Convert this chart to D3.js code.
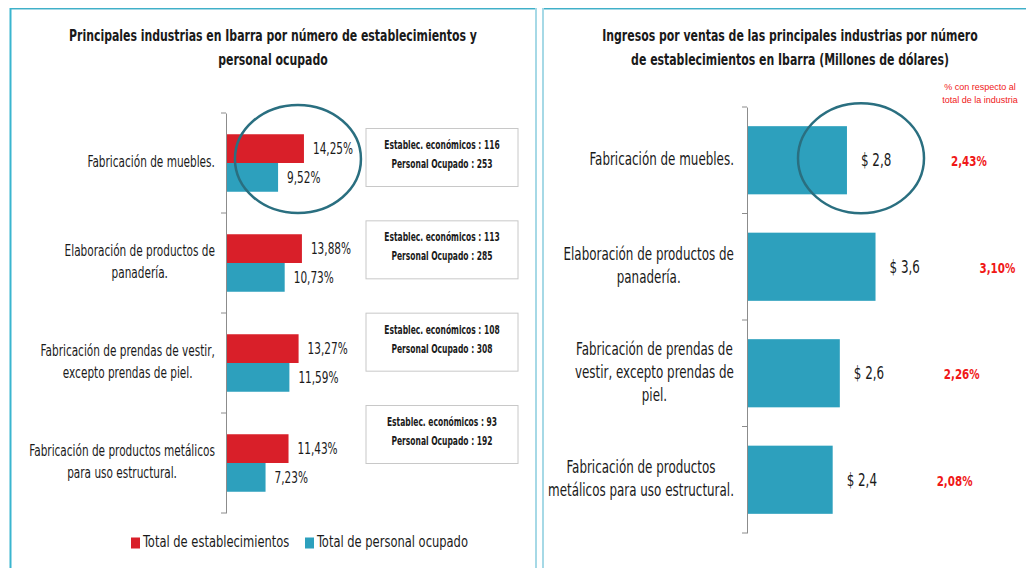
<!DOCTYPE html>
<html>
<head>
<meta charset="utf-8">
<script src="https://cdn.jsdelivr.net/npm/d3@7"></script>
<style>
  body { margin: 0; background: #fff; }
  text { font-family: "DejaVu Sans Condensed", "DejaVu Sans", sans-serif; fill: #1a1a1a; }
</style>
</head>
<body>
<div id="chart"></div>
<script>
// data
var categories = ["Fabricación de muebles.", "Elaboración de productos de panadería.",
  "Fabricación de prendas de vestir, excepto prendas de piel.", "Fabricación de productos metálicos para uso estructural."];
var leftLabels = [["Fabricación de muebles."], ["Elaboración de productos de", "panadería."],
  ["Fabricación de prendas de vestir,", "excepto prendas de piel."], ["Fabricación de productos metálicos", "para uso estructural."]];
var rightLabels = [["Fabricación de muebles."], ["Elaboración de productos de", "panadería."],
  ["Fabricación de prendas de", "vestir, excepto prendas de", "piel."], ["Fabricación de productos", "metálicos para uso estructural."]];
var establecimientos = [14.25, 13.88, 13.27, 11.43];
var personal = [9.52, 10.73, 11.59, 7.23];
var numEstablec = [116, 113, 108, 93];
var numPersonal = [253, 285, 308, 192];
var ingresos = [2.8, 3.6, 2.6, 2.4];
var pctIndustria = [2.43, 3.10, 2.26, 2.08];
var seriesNames = ["Total de establecimientos", "Total de personal ocupado"];
var leftTitle = ["Principales industrias en Ibarra por número de establecimientos y", "personal ocupado"];
var rightTitle = ["Ingresos por ventas de las principales industrias por número", "de establecimientos en Ibarra (Millones de dólares)"];
var pctNote = ["% con respecto al", "total de la industria"];

var red = "#d91f29", blue = "#2da0bd", ring = "#2a6f80";
var loc = d3.formatLocale({decimal: ",", thousands: ".", grouping: [3], currency: ["$ ", ""]});
var f2 = loc.format(".2f"), f1 = loc.format(".1f");

// the original font is a narrow one, so squeeze the condensed font a bit more
var K = 0.78;
function squeeze(sel, k) {
  k = k || K;
  sel.each(function() {
    var t = d3.select(this);
    t.attr("x", (+t.attr("x") || 0) / k).attr("transform", "scale(" + k + ",1)");
  });
}

var svg = d3.select("#chart").append("svg")
  .attr("width", 1026).attr("height", 568);

// panel frames
function frame(x0, x1) {
  svg.append("line").attr("x1", x0).attr("x2", x1).attr("y1", 8.5).attr("y2", 8.5)
    .attr("stroke", "#3fb0c8").attr("stroke-width", 1);
  svg.append("line").attr("x1", x0).attr("x2", x1).attr("y1", 9.5).attr("y2", 9.5)
    .attr("stroke", "#a6d9e6").attr("stroke-width", 1);
}
frame(10, 537);
frame(542, 1026);
svg.append("line").attr("x1", 10.5).attr("x2", 10.5).attr("y1", 8).attr("y2", 568).attr("stroke", "#3ab5cf").attr("stroke-width", 2);
svg.append("line").attr("x1", 536).attr("x2", 536).attr("y1", 8).attr("y2", 568).attr("stroke", "#a6d9e6").attr("stroke-width", 2);
svg.append("line").attr("x1", 543).attr("x2", 543).attr("y1", 8).attr("y2", 568).attr("stroke", "#a6d9e6").attr("stroke-width", 2);

function title(lines, cx) {
  var t = svg.append("g").selectAll("text").data(lines).enter().append("text")
    .attr("x", cx).attr("y", function(d, i) { return 37 + i * 24; })
    .attr("text-anchor", "middle").attr("dominant-baseline", "middle")
    .style("font-weight", "bold").style("font-size", "15px")
    .text(function(d) { return d; });
  squeeze(t, 0.81);
}
title(leftTitle, 273);
title(rightTitle, 790);

// category labels: centred block, widest line ends at `right`
function catLabels(g, labels, y, right, size, lh) {
  labels.forEach(function(lines, i) {
    var cy = y(categories[i]) + y.bandwidth() / 2;
    var tx = g.append("g").selectAll("text").data(lines).enter().append("text")
      .attr("y", function(d, j) { return cy + (j - (lines.length - 1) / 2) * lh; })
      .attr("dominant-baseline", "middle").attr("text-anchor", "middle")
      .style("font-size", size + "px")
      .text(function(d) { return d; });
    var w = d3.max(tx.nodes(), function(n) { return n.getComputedTextLength(); }) * K;
    tx.attr("x", right - w / 2);
    squeeze(tx);
  });
}

function bandTicks(g, y, x0) {
  var r = y.range(), step = y.step();
  var ticks = d3.range(categories.length + 1).map(function(i) { return r[0] + i * step; });
  g.selectAll(".bt").data(ticks).enter().append("line")
    .attr("x1", x0 - 5).attr("x2", x0).attr("y1", function(d) { return d; }).attr("y2", function(d) { return d; })
    .attr("stroke", "#8c8c8c");
}

// ---- left chart
var gl = svg.append("g");
var x = d3.scaleLinear().domain([0, 15]).range([226, 226 + 15 * 5.47]);
var y = d3.scaleBand().domain(categories).range([113, 513]).paddingInner(0.425).paddingOuter(0.2125);
var bw = y.bandwidth() / 2;

gl.selectAll(".est").data(categories).enter().append("rect")
  .attr("x", x(0)).attr("y", function(d) { return y(d); })
  .attr("width", function(d, i) { return x(establecimientos[i]) - x(0); })
  .attr("height", bw).attr("fill", red);
gl.selectAll(".per").data(categories).enter().append("rect")
  .attr("x", x(0)).attr("y", function(d) { return y(d) + bw; })
  .attr("width", function(d, i) { return x(personal[i]) - x(0); })
  .attr("height", bw).attr("fill", blue);

gl.append("g").attr("transform", "translate(" + x(0) + ",0)")
  .call(d3.axisLeft(y).tickSize(0).tickFormat(""))
  .select(".domain").attr("stroke", "#8c8c8c");
bandTicks(gl, y, x(0));

var le = gl.selectAll(".le").data(categories).enter().append("text")
  .attr("x", function(d, i) { return x(establecimientos[i]) + 9; })
  .attr("y", function(d) { return y(d) + bw / 2 + 1; })
  .attr("dominant-baseline", "middle").style("font-size", "15px")
  .text(function(d, i) { return f2(establecimientos[i]) + "%"; });
squeeze(le);
var lp = gl.selectAll(".lp").data(categories).enter().append("text")
  .attr("x", function(d, i) { return x(personal[i]) + 9; })
  .attr("y", function(d) { return y(d) + bw * 1.5 + 1; })
  .attr("dominant-baseline", "middle").style("font-size", "15px")
  .text(function(d, i) { return f2(personal[i]) + "%"; });
squeeze(lp);

catLabels(gl, leftLabels, y, 215, 15, 22);

// info boxes
var boxY = d3.scalePoint().domain(categories).range([157.5, 434.5]);
var box = gl.selectAll(".box").data(categories).enter().append("g")
  .attr("transform", function(d) { return "translate(442," + boxY(d) + ")"; });
box.append("rect").attr("x", -76).attr("y", -29).attr("width", 152).attr("height", 58)
  .attr("fill", "#fff").attr("stroke", "#c8c8c8");
var b1 = box.append("text").attr("y", -12).attr("text-anchor", "middle").attr("dominant-baseline", "middle")
  .style("font-weight", "bold").style("font-size", "12px")
  .text(function(d, i) { return "Establec. económicos : " + numEstablec[i]; });
var b2 = box.append("text").attr("y", 7).attr("text-anchor", "middle").attr("dominant-baseline", "middle")
  .style("font-weight", "bold").style("font-size", "12px")
  .text(function(d, i) { return "Personal Ocupado : " + numPersonal[i]; });
squeeze(b1, 0.7);
squeeze(b2, 0.7);

gl.append("ellipse").attr("cx", x(establecimientos[0]) - 6).attr("cy", y(categories[0]) + bw - 4)
  .attr("rx", 63).attr("ry", 54).attr("fill", "none").attr("stroke", ring).attr("stroke-width", 2.5);

// legend
var lg = gl.append("g").attr("transform", "translate(131,543)");
var items = lg.selectAll("g").data(seriesNames).enter().append("g")
  .attr("transform", function(d, i) { return "translate(" + (i * 174) + ",0)"; });
items.append("rect").attr("y", -5.5).attr("width", 9).attr("height", 11)
  .attr("fill", function(d, i) { return i ? blue : red; });
var lt = items.append("text").attr("x", 12).attr("dominant-baseline", "middle").style("font-size", "16px")
  .text(function(d) { return d; });
squeeze(lt, 0.8);

// ---- right chart
var gr = svg.append("g");
var x2 = d3.scaleLinear().domain([0, 4]).range([747, 747 + 4 * 35.7]);
var y2 = d3.scaleBand().domain(categories).range([107, 533]).paddingInner(0.36).paddingOuter(0.18);

gr.selectAll(".ing").data(categories).enter().append("rect")
  .attr("x", x2(0)).attr("y", function(d) { return y2(d); })
  .attr("width", function(d, i) { return x2(ingresos[i]) - x2(0); })
  .attr("height", y2.bandwidth()).attr("fill", blue);
gr.selectAll(".edge").data(categories).enter().append("rect")
  .attr("x", x2(0)).attr("y", function(d) { return y2(d); })
  .attr("width", 1).attr("height", y2.bandwidth()).attr("fill", red);

gr.append("g").attr("transform", "translate(" + x2(0) + ",0)")
  .call(d3.axisLeft(y2).tickSize(0).tickFormat(""))
  .select(".domain").attr("stroke", "#8c8c8c");
bandTicks(gr, y2, x2(0));

var vi = gr.selectAll(".vi").data(categories).enter().append("text")
  .attr("x", function(d, i) { return x2(ingresos[i]) + 14; })
  .attr("y", function(d) { return y2(d) + y2.bandwidth() / 2 + 1; })
  .attr("dominant-baseline", "middle").style("font-size", "17px")
  .text(function(d, i) { return "$ " + f1(ingresos[i]); });
squeeze(vi);
var pi = gr.selectAll(".pi").data(categories).enter().append("text")
  .attr("x", function(d, i) { return x2(ingresos[i]) + 104; })
  .attr("y", function(d) { return y2(d) + y2.bandwidth() / 2 + 2; })
  .attr("dominant-baseline", "middle").style("font-size", "14px").style("font-weight", "bold")
  .style("fill", "#f01818")
  .text(function(d, i) { return f2(pctIndustria[i]) + "%"; });
squeeze(pi, 0.82);

catLabels(gr, rightLabels, y2, 734, 17, 23);

gr.selectAll(".note").data(pctNote).enter().append("text")
  .attr("x", 980).attr("y", function(d, i) { return 88 + i * 13; })
  .attr("text-anchor", "middle").attr("dominant-baseline", "middle")
  .style("font-family", "'Liberation Sans', Arial, sans-serif").style("font-size", "9px").style("fill", "#f01818")
  .text(function(d) { return d; });

gr.append("ellipse").attr("cx", 861).attr("cy", y2(categories[0]) + y2.bandwidth() / 2 - 2)
  .attr("rx", 63).attr("ry", 55).attr("fill", "none").attr("stroke", ring).attr("stroke-width", 2.5);
</script>
</body>
</html>
